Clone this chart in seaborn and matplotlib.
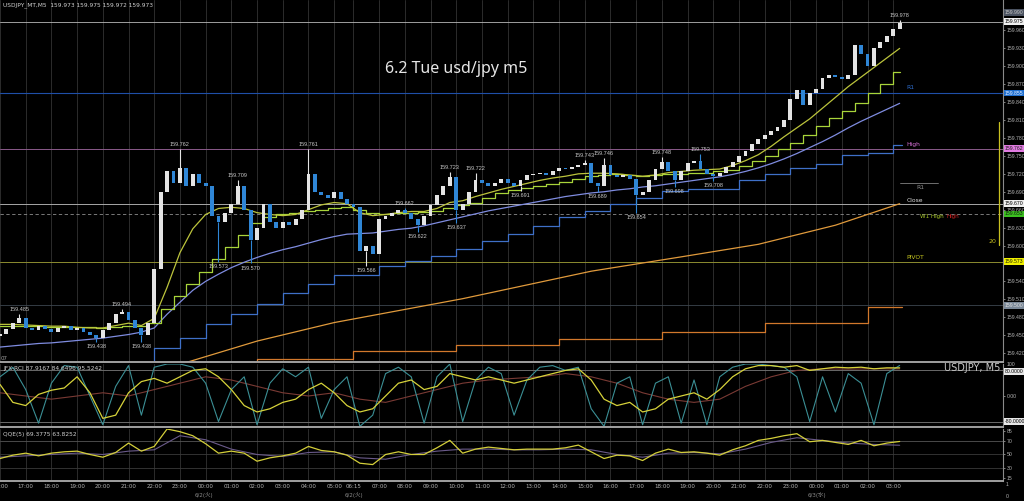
import matplotlib
matplotlib.use("Agg")
import matplotlib.pyplot as plt
import numpy as np
import seaborn as sns

# time axis: chart hours from 16:00 (bars after the 06:00 break sit 0.25 h earlier)
bar_hours = np.arange(0, 35.01, 0.25)   # 15-minute bars
ma_hours = np.arange(0, 35.01, 0.5)     # half-hour samples of the averages / oscillators
hourly = np.arange(0, 36)

closes = [
    159.452, 159.460, 159.470, 159.478, 159.462, 159.458, 159.465, 159.460,
    159.455, 159.462, 159.466, 159.458, 159.462, 159.455, 159.450, 159.445,
    159.458, 159.470, 159.485, 159.488, 159.475, 159.462, 159.450, 159.470,
    159.560, 159.690, 159.725, 159.705, 159.730, 159.700, 159.720, 159.705,
    159.700, 159.650, 159.640, 159.655, 159.670, 159.700, 159.660, 159.610,
    159.630, 159.670, 159.640, 159.630, 159.640, 159.635, 159.645, 159.660,
    159.720, 159.690, 159.685, 159.680, 159.690, 159.678, 159.670, 159.665,
    159.590, 159.600, 159.585, 159.645, 159.650, 159.655, 159.660, 159.655,
    159.645, 159.635, 159.650, 159.668, 159.685, 159.700, 159.715, 159.660,
    159.670, 159.690, 159.710, 159.705, 159.700, 159.705, 159.712, 159.705,
    159.700, 159.710, 159.718, 159.720, 159.722, 159.718, 159.725, 159.730,
    159.728, 159.732, 159.735, 159.738, 159.705, 159.700, 159.735, 159.718,
    159.715, 159.718, 159.712, 159.685, 159.690, 159.710, 159.728, 159.740,
    159.725, 159.710, 159.725, 159.738, 159.742, 159.728, 159.720, 159.716,
    159.722, 159.732, 159.740, 159.750, 159.758, 159.770, 159.778, 159.785,
    159.792, 159.798, 159.810, 159.845, 159.860, 159.835, 159.855, 159.862,
    159.880, 159.885, 159.882, 159.878, 159.885, 159.935, 159.920, 159.900,
    159.930, 159.940, 159.950, 159.962, 159.973,
]

# labelled swing highs / lows
swing_hours = [0.75, 3.75, 4.75, 5.5, 7.0, 8.5, 9.25, 9.75, 12.0, 14.25, 15.75, 16.25,
               17.5, 17.75, 18.5, 20.25, 22.75, 23.25, 23.5, 24.75, 25.75, 26.25,
               27.25, 27.75, 35.0]
swing_prices = [159.485, 159.438, 159.494, 159.438, 159.762, 159.573, 159.709, 159.570,
                159.761, 159.566, 159.662, 159.622, 159.723, 159.637, 159.722, 159.691,
                159.743, 159.689, 159.746, 159.654, 159.748, 159.698, 159.753, 159.708,
                159.978]
swing_is_high = [1, 0, 1, 0, 1, 0, 1, 0, 1, 0, 1, 0, 1, 0, 1, 0, 1, 0, 1, 0, 1, 0, 1, 0, 1]

ma_fast = [
    159.468, 159.468, 159.467, 159.466, 159.465, 159.465, 159.463, 159.462, 159.462, 159.466,
    159.470, 159.466, 159.478, 159.530, 159.588, 159.628, 159.652, 159.662, 159.664, 159.662,
    159.655, 159.652, 159.650, 159.652, 159.660, 159.668, 159.672, 159.670, 159.655, 159.650,
    159.652, 159.655, 159.657, 159.657, 159.662, 159.672, 159.675, 159.682, 159.688, 159.694,
    159.699, 159.704, 159.709, 159.713, 159.716, 159.720, 159.721, 159.721, 159.720, 159.718,
    159.716, 159.718, 159.722, 159.724, 159.726, 159.727, 159.728, 159.734, 159.742, 159.752,
    159.766, 159.782, 159.797, 159.812, 159.830, 159.848, 159.866, 159.882, 159.898, 159.914,
    159.930,
]
ma_mid = [
    159.466, 159.466, 159.465, 159.465, 159.464, 159.464, 159.463, 159.463, 159.462, 159.463,
    159.465, 159.465, 159.470, 159.494, 159.515, 159.535, 159.556, 159.578, 159.597, 159.618,
    159.637, 159.647, 159.652, 159.654, 159.657, 159.660, 159.663, 159.664, 159.660, 159.655,
    159.653, 159.654, 159.655, 159.656, 159.658, 159.662, 159.667, 159.672, 159.680, 159.688,
    159.693, 159.697, 159.700, 159.703, 159.707, 159.712, 159.716, 159.718, 159.719, 159.718,
    159.717, 159.718, 159.719, 159.720, 159.721, 159.722, 159.724, 159.727, 159.733, 159.741,
    159.750, 159.762, 159.772, 159.785, 159.800, 159.813, 159.825, 159.838, 159.855, 159.870,
    159.890,
]
ma_slow = [
    159.430, 159.432, 159.434, 159.436, 159.437, 159.439, 159.441, 159.443, 159.445, 159.448,
    159.451, 159.455, 159.462, 159.485, 159.505, 159.525, 159.540, 159.552, 159.563, 159.572,
    159.580, 159.587, 159.593, 159.598, 159.604, 159.610, 159.615, 159.619, 159.620, 159.621,
    159.624, 159.627, 159.629, 159.633, 159.638, 159.643, 159.648, 159.653, 159.658, 159.662,
    159.666, 159.670, 159.674, 159.678, 159.682, 159.685, 159.688, 159.690, 159.693, 159.695,
    159.698, 159.700, 159.703, 159.706, 159.709, 159.712, 159.715, 159.719, 159.724, 159.730,
    159.737, 159.745, 159.754, 159.764, 159.774, 159.785, 159.797, 159.808, 159.818, 159.828,
    159.838,
]

# H1 average (stepped)
h1_step_hours = [6, 7, 8, 9, 10, 11, 12, 13, 14.75, 15.75, 16.75, 17.75, 18.75, 19.75, 20.75,
                 21.75, 22.75, 23.75, 24.75, 25.75, 26.75, 27.75, 28.75, 29.75, 30.75, 31.75,
                 32.75, 33.75, 34.75]
h1_step_values = [159.429, 159.445, 159.469, 159.486, 159.502, 159.521, 159.536, 159.551,
                  159.566, 159.574, 159.583, 159.595, 159.608, 159.620, 159.632, 159.647,
                  159.658, 159.670, 159.680, 159.692, 159.694, 159.694, 159.709, 159.720,
                  159.729, 159.737, 159.752, 159.755, 159.769]
# H4 average (stepped) and daily average
h4_step_hours = [10, 13.75, 17.75, 21.75, 25.75, 29.75, 33.75]
h4_step_values = [159.410, 159.424, 159.434, 159.444, 159.455, 159.470, 159.497]
daily_hours = [7, 10, 13, 18, 23, 26.5, 29.5, 32.5, 35]
daily_values = [159.401, 159.440, 159.471, 159.511, 159.557, 159.581, 159.602, 159.634, 159.670]

level_prices = [159.975, 159.855, 159.762, 159.670, 159.653, 159.573, 159.500]
price_ticks = [159.420, 159.450, 159.480, 159.510, 159.540, 159.600, 159.630, 159.660,
               159.690, 159.720, 159.750, 159.780, 159.810, 159.840, 159.870, 159.900,
               159.930, 159.960]

rci_fast = [
    60, 90, 20, -85, 40, 95, 90, 0, -90, 30,
    95, -60, 90, 100, 100, 90, 40, -80, 20, 60,
    -90, 40, 85, 60, 90, -70, 20, 60, -95, -60,
    70, 90, 60, -85, 60, 100, -80, 50, 90, 70,
    -60, 50, 90, 95, 80, 90, -40, -95, 40, 60,
    -90, 40, 60, -85, 50, -90, 60, 90, 100, 100,
    95, 90, 60, -80, 60, -50, 70, 40, -90, 70,
    95.5,
]
rci_mid = [
    36, -20, -30, 5, 18, 25, 60, 10, -70, -60,
    10, 45, 55, 40, 60, 80, 85, 60, 20, -30,
    -50, -40, -20, -10, 20, 40, 10, -30, -50, -40,
    0, 40, 50, 20, 30, 70, 60, 50, 60, 50,
    40, 50, 60, 70, 80, 85, 50, -10, -30, -20,
    -50, -40, -10, 0, 10, -10, 20, 60, 85, 95,
    95, 90, 95, 80, 85, 90, 88, 90, 85, 88,
    87.9,
]
rci_slow = [10, 0, -10, 0, 10, 0, 20, 40, 60, 50, 30, 10, 0, 10, -10, -20, 0, 20,
            40, 50, 55, 60, 70, 60, 40, 10, -10, -20, -10, 30, 60, 80, 85, 84, 85, 84.6]

qqe_line = [
    44, 49, 52, 48, 52, 54, 55, 50, 46, 53,
    67, 55, 62, 88, 84, 78, 66, 52, 55, 52,
    40, 45, 48, 52, 62, 56, 54, 49, 37, 35,
    50, 54, 50, 50, 60, 71, 52, 58, 61, 59,
    57, 58, 58, 58, 60, 64, 54, 44, 49, 48,
    41, 52, 58, 53, 54, 52, 49, 57, 63, 71,
    74, 78, 81, 69, 71, 68, 65, 71, 63, 67,
    69.4,
]
qqe_signal = [46, 48, 50, 52, 50, 55, 57, 78, 72, 58, 50, 47, 53, 54, 45, 43, 50, 55,
              58, 58, 57, 57, 58, 57, 50, 46, 52, 53, 51, 58, 68, 75, 71, 67, 65, 63.8]

tick_hours = [0, 1, 2, 3, 4, 5, 6, 7, 8, 9, 10, 11, 12, 13, 13.75, 14.75, 15.75, 16.75,
              17.75, 18.75, 19.75, 20.75, 21.75, 22.75, 23.75, 24.75, 25.75, 26.75, 27.75,
              28.75, 29.75, 30.75, 31.75, 32.75, 33.75, 34.75]
tick_labels = ["16:00", "17:00", "18:00", "19:00", "20:00", "21:00", "22:00", "23:00",
               "00:00", "01:00", "02:00", "03:00", "04:00", "05:00", "06:15", "07:00",
               "08:00", "09:00", "10:00", "11:00", "12:00", "13:00", "14:00", "15:00",
               "16:00", "17:00", "18:00", "19:00", "20:00", "21:00", "22:00", "23:00",
               "00:00", "01:00", "02:00", "03:00"]

SMALL = dict(fontsize=3.7, family="Liberation Sans")


def main():
    sns.set_theme(style="dark", rc={"axes.facecolor": "black", "figure.facecolor": "black"})
    plt.rcParams["font.family"] = ["DejaVu Sans", "Noto Sans CJK JP"]

    W, H = 1024, 501
    fig = plt.figure(figsize=(10.24, 5.01), dpi=100)

    def px_axes(top, bottom):
        return fig.add_axes([0, 1 - bottom / H, 1003 / W, (bottom - top) / H])

    ax = px_axes(0, 362)
    ax_rci = px_axes(364, 427)
    ax_qqe = px_axes(429, 481)

    xlim = (0.06, 39.02)
    for a in (ax, ax_rci, ax_qqe):
        a.set_facecolor("black")
        a.set_xlim(*xlim)
        a.set_xticks(tick_hours)
        a.grid(axis="x", color="#2c2c2c", lw=0.7)
        a.grid(axis="y", visible=False)
        a.yaxis.tick_right()
        a.tick_params(axis="y", labelsize=3.7, colors="#b4b4b4", length=1.5, width=0.5, pad=1)
        a.tick_params(axis="x", length=0, labelbottom=False)
        for side in ("left", "top"):
            a.spines[side].set_visible(False)
        a.spines["right"].set_color("#8a8a8a")
        a.spines["right"].set_linewidth(0.8)
        a.spines["bottom"].set_color("#a0a0a0")
        a.spines["bottom"].set_linewidth(1.4)
        a.set_xlabel("")
        a.set_ylabel("")

    # ---- main price panel ----
    ax.set_ylim(159.405, 160.011)
    ax.set_yticks(price_ticks)
    ax.set_yticklabels([f"{p:.3f}" for p in price_ticks], family="Liberation Sans")

    level_styles = [
        dict(color="#b8b8b8", lw=0.6, ls="-"),
        dict(color="#1f4fa8", lw=0.8, ls="-"),
        dict(color="#8a5a8a", lw=0.7, ls="-"),
        dict(color="#a8a8a8", lw=0.7, ls="-"),
        dict(color="#8c8c8c", lw=0.6, ls=(0, (4, 3))),
        dict(color="#8c8c30", lw=0.7, ls="-"),
        dict(color="#3c4650", lw=0.6, ls="-"),
    ]
    for price, st in zip(level_prices, level_styles):
        ax.axhline(price, zorder=1, **st)

    lines = [
        (daily_hours, daily_values, "#e09a3c", None),
        (ma_hours, ma_slow, "#7f8ce0", None),
        (ma_hours, ma_mid, "#a8d43a", "steps-mid"),
        (ma_hours, ma_fast, "#bcc43c", None),
    ]
    for xs, ys, col, ds in lines:
        kw = {"drawstyle": ds} if ds else {}
        sns.lineplot(x=xs, y=ys, ax=ax, color=col, lw=0.9, estimator=None, sort=False,
                     zorder=2, **kw)
    for hrs, vals, col in ((h1_step_hours, h1_step_values, "#3f70c8"),
                           (h4_step_hours, h4_step_values, "#d2782c")):
        xs = [hrs[0]] + list(hrs) + [35.1]
        ys = [159.40] + list(vals) + [vals[-1]]
        sns.lineplot(x=xs, y=ys, ax=ax, color=col, lw=0.9, estimator=None, sort=False,
                     drawstyle="steps-post", zorder=2)

    c = np.array(closes)
    o = np.r_[159.448, c[:-1]]
    up = c >= o
    body_low = np.minimum(o, c)
    body_h = np.maximum(np.abs(c - o), 0.0015)
    ax.bar(bar_hours, body_h, bottom=body_low, width=0.15,
           color=np.where(up, "#e4e4e4", "#2f86d6"), linewidth=0, zorder=3)

    for hr, pr, hi in zip(swing_hours, swing_prices, swing_is_high):
        i = int(round(hr / 0.25))
        edge = max(o[i], c[i]) if hi else min(o[i], c[i])
        ax.vlines(hr, edge, pr, color="#e4e4e4" if up[i] else "#2f86d6", lw=0.8, zorder=3)
        ax.annotate(f"{pr:.3f}", (hr, pr), xytext=(0, 1.5 if hi else -1.5),
                    textcoords="offset points", ha="center", va="bottom" if hi else "top",
                    fontsize=4.0, family="Liberation Sans", color="#c8c8c8", zorder=4)

    yt = ax.get_yaxis_transform()
    box_specs = [
        (159.990, "#4a5260", "#c8c8c8"),
        (159.975, "#f0f0f0", "#000000"),
        (159.855, "#1f6fd0", "#e8f0ff"),
        (159.762, "#e07ae0", "#202020"),
        (159.670, "#f0f0f0", "#000000"),
        (159.653, "#3cc020", "#102010"),
        (159.573, "#f0f000", "#202000"),
        (159.500, "#7a8898", "#e0e0e0"),
    ]
    for price, bg, fg in box_specs:
        ax.text(1.002, price, f"{price:.3f}", transform=yt, ha="left", va="center",
                color=fg, clip_on=False, zorder=6,
                bbox=dict(boxstyle="square,pad=0.15", fc=bg, ec="none"), **SMALL)

    ax.text(0.904, 159.855 + 0.005, "R1", transform=yt, fontsize=4.3, color="#2f6fd0",
            va="bottom")
    ax.text(0.904, 159.762 + 0.003, "High", transform=yt, fontsize=4.3, color="#d870d8",
            va="bottom")
    ax.plot([0.897, 0.935], [159.704, 159.704], transform=yt, color="#808080", lw=0.6)
    ax.text(0.914, 159.702, "R1", transform=yt, fontsize=4.3, color="#909090", va="top")
    ax.text(0.904, 159.672, "Close", transform=yt, fontsize=4.3, color="#e0e0e0",
            va="bottom")
    ax.text(0.917, 159.652, "W1 High", transform=yt, fontsize=4.1, color="#a8c828",
            va="top")
    ax.text(0.944, 159.652, "High", transform=yt, fontsize=4.1, color="#c82020", va="top")
    ax.text(0.904, 159.576, "PIVOT", transform=yt, fontsize=4.3, color="#c8c820",
            va="bottom")

    ax.plot([0.996, 0.996], [0.323, 0.663], transform=ax.transAxes, color="#c8c020", lw=0.9)
    ax.text(0.993, 0.325, "20", transform=ax.transAxes, fontsize=4.5, color="#c8c020",
            ha="right", va="bottom")

    fig.text(3 / W, 1 - 5 / H, "USDJPY_MT,M5  159.973 159.975 159.972 159.973",
             fontsize=4.2, color="#d0d0d0", va="center")
    fig.text(385 / W, 1 - 69 / H, "6.2 Tue usd/jpy m5", fontsize=11.5, color="#e6e6e6",
             va="center", family="Noto Sans")
    fig.text(1 / W, 1 - 358 / H, "07", fontsize=4, color="#a0a0a0", va="center")

    # ---- RCI panel ----
    ax_rci.set_ylim(-97, 100)
    ax_rci.set_yticks([0])
    ax_rci.set_yticklabels(["0.00"], family="Liberation Sans")
    for lv in (80, -80):
        ax_rci.axhline(lv, color="#6a6a6a", lw=0.7, zorder=1)
    sns.lineplot(x=hourly, y=rci_slow, ax=ax_rci, color="#7a3a34", lw=0.8, estimator=None)
    sns.lineplot(x=ma_hours, y=rci_fast, ax=ax_rci, color="#3b8f95", lw=0.8, estimator=None)
    sns.lineplot(x=ma_hours, y=rci_mid, ax=ax_rci, color="#d6d23a", lw=0.9, estimator=None)
    yt_r = ax_rci.get_yaxis_transform()
    for lv, txt in ((76, "80.0000"), (-80, "-80.0000")):
        ax_rci.text(1.002, lv, txt, transform=yt_r, ha="left", va="center",
                    color="#000000", clip_on=False,
                    bbox=dict(boxstyle="square,pad=0.15", fc="#e8e8e8", ec="none"), **SMALL)
    ax_rci.text(1.004, 99, "100", transform=yt_r, ha="left", va="center",
                color="#b4b4b4", clip_on=False, **SMALL)
    ax_rci.text(0.003, 0.93, "JFX-RCI 87.9167 84.6496 95.5242", transform=ax_rci.transAxes,
                fontsize=4.2, color="#d0d0d0", va="center")
    ax_rci.text(0.997, 0.93, "USDJPY, M5", transform=ax_rci.transAxes, fontsize=7,
                color="#c8c8c8", ha="right", va="center")

    # ---- QQE panel ----
    ax_qqe.set_ylim(10.5, 88)
    ax_qqe.set_yticks([15, 30, 50, 70, 85])
    ax_qqe.set_yticklabels(["15", "30", "50", "70", "85"], family="Liberation Sans")
    for lv, col in ((70, "#555555"), (50, "#3a3a3a"), (30, "#3a3a3a")):
        ax_qqe.axhline(lv, color=col, lw=0.6, zorder=1)
    sns.lineplot(x=hourly, y=qqe_signal, ax=ax_qqe, color="#6a5a8a", lw=0.8, estimator=None)
    sns.lineplot(x=ma_hours, y=qqe_line, ax=ax_qqe, color="#d4cf3a", lw=0.9, estimator=None)
    ax_qqe.text(0.003, 0.9, "QQE(5) 69.3775 63.8252", transform=ax_qqe.transAxes,
                fontsize=4.2, color="#d0d0d0", va="center")
    ax_qqe.tick_params(axis="x", labelbottom=True, labelsize=4, colors="#b4b4b4", pad=2)
    ax_qqe.set_xticklabels(tick_labels)

    for txt, x in (("6/2(火)", 204), ("6/2(火)", 354), ("6/3(水)", 817)):
        fig.text(x / W, 1 - 495 / H, txt, fontsize=4, color="#8a8a8a", ha="center",
                 va="center")
    fig.text(1006 / W, 1 - 485 / H, "1", color="#b4b4b4", va="center", **SMALL)
    fig.text(1006 / W, 1 - 497 / H, "0", color="#b4b4b4", va="center", **SMALL)

    fig.savefig("out.png", dpi=100, facecolor="black")
    plt.close(fig)


if __name__ == "__main__":
    main()
